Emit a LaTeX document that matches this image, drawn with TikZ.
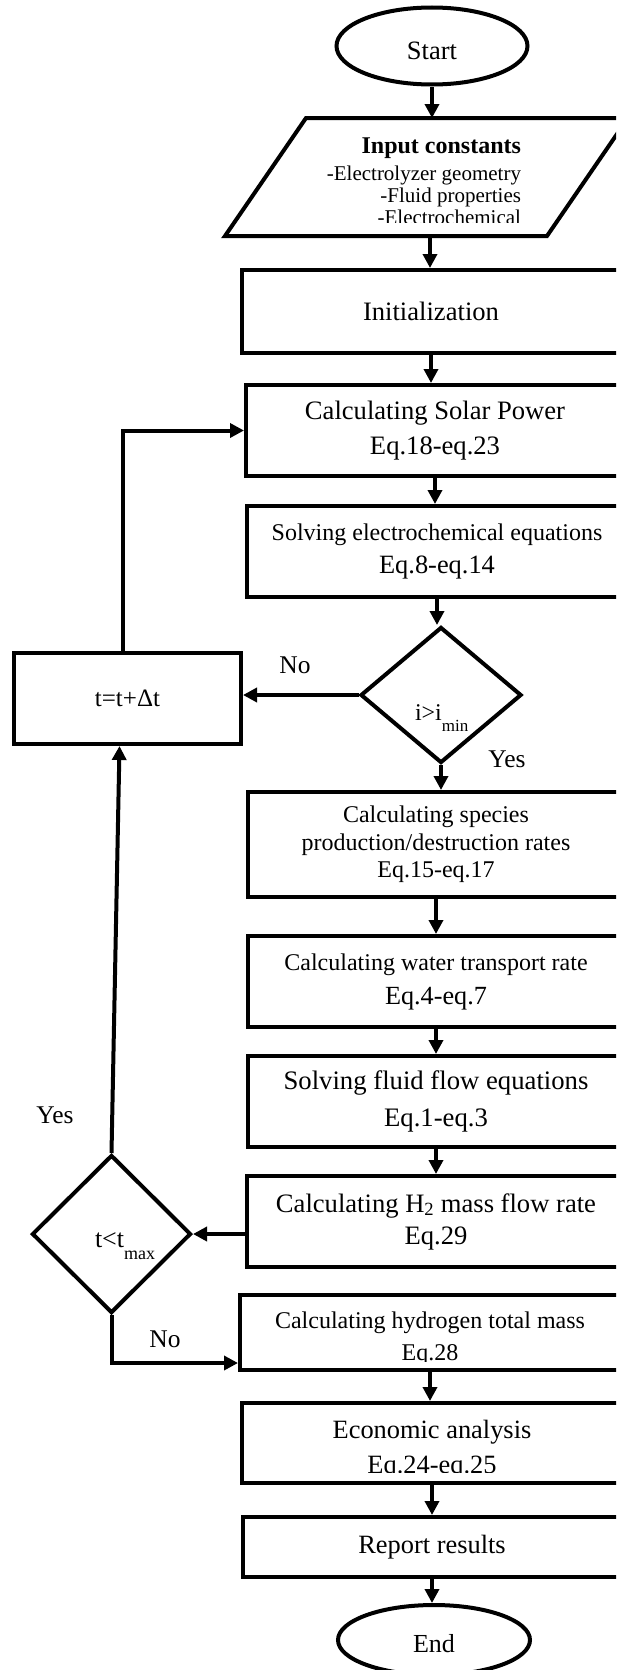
\documentclass[tikz,border=0pt]{standalone}
\usepackage{fontspec}
\setmainfont{Liberation Serif}
\usetikzlibrary{shapes.geometric,arrows.meta,calc}
\newcommand{\fs}[2]{\fontsize{#1}{#2}\selectfont}
\begin{document}
\begin{tikzpicture}[x=1pt,y=-1pt,line width=4pt,
  box/.style={draw,rectangle,inner sep=0pt,align=center,minimum width=378pt},
  term/.style={draw,ellipse,inner sep=0pt},
  dec/.style={draw,diamond,inner sep=0pt},
  txt/.style={inner sep=0pt},
  lbl/.style={inner sep=0pt,anchor=base,font=\fs{25.5}{30}},
  arr/.style={-{Triangle[width=14pt,length=14pt]},line width=4pt}]
\useasboundingbox (0,0) rectangle (616,1670);
\clip (0,0) rectangle (616,1670);

% terminals
\node[term,minimum width=191pt,minimum height=77pt,font=\fs{26.5}{30},text height=27pt,text depth=0pt] (start) at (432,46) {Start};
\node[term,minimum width=192pt,minimum height=70pt,font=\fs{26}{30},text height=25pt,text depth=0pt] (end) at (434,1640) {End};

% input parallelogram
\draw (225,236) -- (306,118) -- (628,118) -- (547,236) -- cycle;
\coordinate (inTop) at (430,118);
\coordinate (inBot) at (430,236);
\begin{scope}
\clip (230,120) rectangle (616,222.5);
\node[txt,anchor=base east,font=\bfseries\fs{24}{28}] (inT1) at (523,153) {Input constants};
\node[txt,anchor=base east,font=\fs{21}{24}] (inT2) at (523,180) {-Electrolyzer geometry};
\node[txt,anchor=base east,font=\fs{21}{24}] (inT3) at (523,202) {-Fluid properties};
\node[txt,anchor=base east,font=\fs{21}{24}] (inT4) at (523,224) {-Electrochemical};
\end{scope}

% process boxes
\node[box,minimum height=83pt,font=\fs{26.6}{30}] (init) at (431,311.5) {Initialization};
\node[box,minimum height=91pt,font=\fs{26.6}{35}] (solar) at (435,430.5) {Calculating Solar Power\\Eq.18-eq.23};
\node[box,minimum width=380pt,minimum height=91pt,font=\fs{26.4}{33}] (solve) at (437,551.5) {{\fs{24}{33}Solving electrochemical equations}\\Eq.8-eq.14};
\node[box,minimum width=376pt,minimum height=105pt,font=\fs{24}{27.5}] (species) at (436,844.5) {Calculating species\\production/destruction rates\\Eq.15-eq.17};
\node[box,minimum width=376pt,minimum height=91pt,font=\fs{26.2}{34}] (water) at (436,981.5) {{\fs{24}{34}Calculating water transport rate}\\Eq.4-eq.7};
\node[box,minimum width=376pt,minimum height=91pt,font=\fs{26.7}{37}] (fluid) at (436,1101.5) {Solving fluid flow equations\\Eq.1-eq.3};
\node[box,minimum height=91pt,font=\fs{26.6}{32}] (h2) at (436,1221.5) {Calculating H\textsubscript{2} mass flow rate\\Eq.29};
\node[box,minimum width=380pt,minimum height=75pt] (hydro) at (430,1332.5) {};
\node[box,minimum width=380pt,minimum height=80pt] (econ) at (432,1443) {};
\node[box,minimum height=60pt,font=\fs{26.4}{30}] (report) at (432,1547) {Report results};
\node[box,minimum width=227pt,minimum height=91pt,font=\fs{25}{30}] (tbox) at (127.5,698.5) {t=t+Δt};

\begin{scope}
\clip (242,1297) rectangle (616,1361);
\node[txt,anchor=base,font=\fs{24}{30}] (hydroT1) at (430,1328) {Calculating hydrogen total mass};
\node[txt,anchor=base,font=\fs{24}{30}] (hydroT2) at (430,1360) {Eq.28};
\end{scope}
\begin{scope}
\clip (244,1405) rectangle (616,1472);
\node[txt,anchor=base,font=\fs{26.4}{30}] (econT1) at (432,1438) {Economic analysis};
\node[txt,anchor=base,font=\fs{26.4}{30}] (econT2) at (432,1473) {Eq.24-eq.25};
\end{scope}

% decisions
\node[dec,minimum width=161pt,minimum height=136pt] (dmin) at (441,695) {};
\node[txt,anchor=base west,font=\fs{24}{28}] (dminT) at (413,720) {i>i\raisebox{-11pt}{\fs{17}{20}min}};
\node[dec,minimum width=159pt,minimum height=158pt] (dmax) at (111.5,1234) {};
\node[txt,anchor=base west,font=\fs{26}{30}] (dmaxT) at (93,1247) {t<t\raisebox{-12pt}{\fs{18}{20}max}};

% labels
\node[lbl] (noA) at (295,673) {No};
\node[lbl] (yesA) at (507,767) {Yes};
\node[lbl] (yesB) at (55,1123) {Yes};
\node[lbl] (noB) at (165,1347) {No};

% connectors
\draw[arr] (start.south) -- (start.south |- inTop);
\draw[arr] (inBot) -- (inBot |- init.north);
\draw[arr] (init.south) -- (init.south |- solar.north);
\draw[arr] (solar.south) -- (solar.south |- solve.north);
\draw[arr] (solve.south) -- (solve.south |- dmin.north);
\draw[arr] (dmin.south) -- (dmin.south |- species.north);
\draw[arr] (species.south) -- (species.south |- water.north);
\draw[arr] (water.south) -- (water.south |- fluid.north);
\draw[arr] (fluid.south) -- (fluid.south |- h2.north);
\draw[arr] (hydro.south) -- (hydro.south |- econ.north);
\draw[arr] (econ.south) -- (econ.south |- report.north);
\draw[arr] (report.south) -- (report.south |- end.north);
\draw[arr] (dmin.west) -- (dmin.west -| tbox.east);
\draw[arr] ([xshift=-4.5pt]tbox.north) |- (solar.west);
\draw[arr] (dmax.north) -- ([xshift=-8pt]tbox.south);
\draw[arr] (dmax.east -| h2.west) -- (dmax.east);
\draw[arr] (dmax.south) |- ([yshift=9pt]hydro.south west);
\end{tikzpicture}
\end{document}
